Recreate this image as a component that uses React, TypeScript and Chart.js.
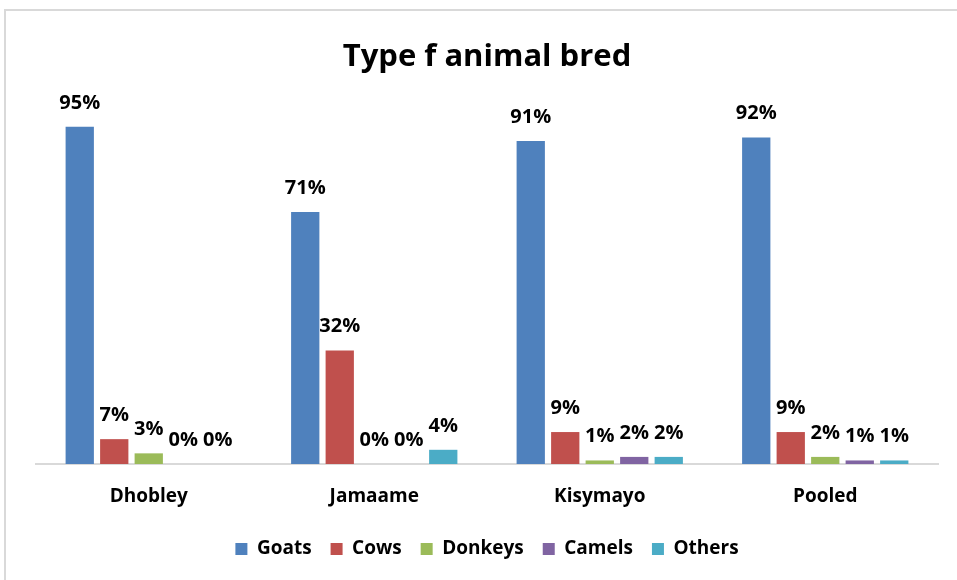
import React, { useEffect, useRef } from "react";
import { Chart, registerables } from "chart.js";

Chart.register(...registerables);

const categories = ["Dhobley", "Jamaame", "Kisymayo", "Pooled"];
const seriesNames = ["Goats", "Cows", "Donkeys", "Camels", "Others"];
const goats = [95, 71, 91, 92];
const cows = [7, 32, 9, 9];
const donkeys = [3, 0, 1, 2];
const camels = [0, 0, 2, 1];
const others = [0, 4, 2, 1];
const seriesColors = ["#4F81BD", "#C0504D", "#9BBB59", "#8064A2", "#4BACC6"];

const FONT = "'Open Sans', 'Noto Sans', sans-serif";

// Writes "NN%" above every bar, centred on it
const valueLabels = {
  id: "valueLabels",
  afterDatasetsDraw(chart: any) {
    const ctx = chart.ctx;
    ctx.save();
    ctx.font = `bold 20px ${FONT}`;
    ctx.fillStyle = "#000000";
    ctx.textAlign = "center";
    ctx.textBaseline = "alphabetic";
    chart.data.datasets.forEach((ds: any, di: number) => {
      const meta = chart.getDatasetMeta(di);
      meta.data.forEach((bar: any, i: number) => {
        ctx.fillText(`${ds.data[i]}%`, bar.x, bar.y - 18);
      });
    });
    ctx.restore();
  },
};

export default function App() {
  const canvasRef = useRef<HTMLCanvasElement | null>(null);

  useEffect(() => {
    if (!canvasRef.current) return;
    const values = [goats, cows, donkeys, camels, others];
    const chart = new Chart(canvasRef.current, {
      type: "bar",
      data: {
        labels: categories,
        datasets: seriesNames.map((name, i) => ({
          label: name,
          data: values[i],
          backgroundColor: seriesColors[i],
          borderWidth: 0,
          categoryPercentage: 0.765,
          barPercentage: 0.82,
        })),
      },
      options: {
        responsive: false,
        animation: false,
        maintainAspectRatio: false,
        layout: { padding: { left: 36, right: 19, top: 0, bottom: 11.5 } },
        plugins: {
          title: {
            display: true,
            text: "Type f animal bred",
            color: "#000000",
            font: { family: FONT, size: 31, weight: "bold" },
            padding: { top: 38.9, bottom: 32.9 },
          },
          legend: {
            display: true,
            position: "bottom",
            labels: {
              color: "#000000",
              font: { family: FONT, size: 19, weight: "bold" },
              boxWidth: 12,
              boxHeight: 12,
              padding: 19,
            },
          },
          tooltip: { enabled: false },
        },
        scales: {
          x: {
            grid: { display: false, tickLength: 9.3 },
            border: { display: true, color: "#d9d9d9", width: 2 },
            ticks: {
              color: "#000000",
              font: { family: FONT, size: 19, weight: "bold" },
              padding: 12.2,
            },
          },
          y: {
            display: false,
            min: 0,
            max: 100,
          },
        },
      },
      plugins: [valueLabels],
    });
    return () => chart.destroy();
  }, []);

  return (
    <div style={{ position: "absolute", left: 0, top: 0, width: 957, height: 580, background: "#ffffff", overflow: "hidden" }}>
      <div
        style={{
          position: "absolute",
          left: 4,
          top: 9,
          width: 980,
          height: 600,
          border: "2px solid #d9d9d9",
          boxSizing: "border-box",
        }}
      />
      <canvas ref={canvasRef} width={957} height={580} style={{ position: "absolute", left: 0, top: 0 }} />
    </div>
  );
}
